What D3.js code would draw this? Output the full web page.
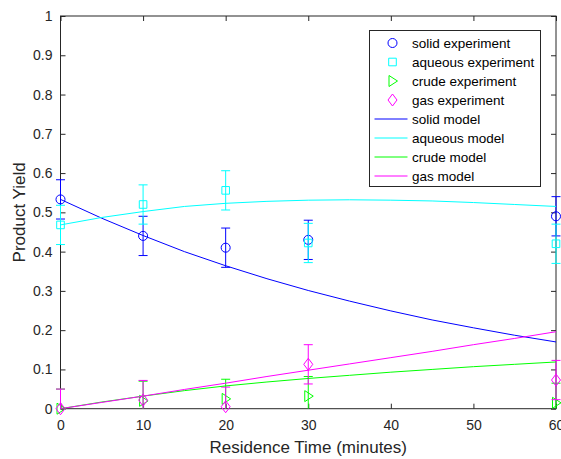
<!DOCTYPE html>
<html>
<head>
<meta charset="utf-8">
<script src="https://cdn.jsdelivr.net/npm/d3@7"></script>
<style>
  body { margin: 0; background: #fff; }
  svg { font-family: "Liberation Sans", Arial, sans-serif; }
</style>
</head>
<body>
<svg id="chart" width="561" height="459"></svg>
<script>
// experiment data
let times = [0, 10, 20, 30, 60];
let solidExp = [0.533, 0.44, 0.41, 0.43, 0.49];
let aqueousExp = [0.468, 0.52, 0.556, 0.422, 0.42];
let crudeExp = [0, 0.02, 0.025, 0.032, 0.015];
let gasExp = [0, 0.022, 0.005, 0.113, 0.073];
let errSize = 0.05;

// model curves
let modelTimes = [0, 5, 10, 15, 20, 25, 30, 35, 40, 45, 50, 55, 60];
let solidModel = [0.533, 0.485, 0.441, 0.400, 0.364, 0.331, 0.301, 0.274, 0.249, 0.226, 0.206, 0.187, 0.170];
let aqueousModel = [0.468, 0.487, 0.502, 0.515, 0.523, 0.528, 0.531, 0.532, 0.531, 0.529, 0.525, 0.520, 0.515];
let crudeModel = [0, 0.017, 0.032, 0.046, 0.058, 0.068, 0.077, 0.085, 0.093, 0.100, 0.107, 0.113, 0.119];
let gasModel = [0, 0.016, 0.032, 0.049, 0.065, 0.082, 0.098, 0.114, 0.130, 0.146, 0.163, 0.179, 0.196];

let xTicks = [0, 10, 20, 30, 40, 50, 60];
let yTicks = [0, 0.1, 0.2, 0.3, 0.4, 0.5, 0.6, 0.7, 0.8, 0.9, 1];

let series = [
    {name: "solid", color: "#0000ff", exp: solidExp, model: solidModel, marker: "circle"},
    {name: "aqueous", color: "#00ffff", exp: aqueousExp, model: aqueousModel, marker: "square"},
    {name: "crude", color: "#00ff00", exp: crudeExp, model: crudeModel, marker: "triangle"},
    {name: "gas", color: "#ff00ff", exp: gasExp, model: gasModel, marker: "diamond"}
];

let svg = d3.select("#chart");
let margin = {top: 16, right: 5, bottom: 50.3, left: 60.5};
let width = 561 - margin.left - margin.right;
let height = 459 - margin.top - margin.bottom;
let g = svg.append("g").attr("transform", "translate(" + margin.left + "," + margin.top + ")");

// clip only in y so caps at the first and last time stay whole
svg.append("defs").append("clipPath").attr("id", "plotClip")
    .append("rect").attr("x", -20).attr("width", width + 40).attr("height", height);

let x = d3.scaleLinear().domain([0, 60]).range([0, width]);
let y = d3.scaleLinear().domain([0, 1]).range([height, 0]);

let axisColor = "#262626";

function styleAxis(sel) {
    sel.select(".domain").remove();
    sel.selectAll("line").attr("stroke", axisColor);
    sel.selectAll("text").attr("fill", axisColor).attr("font-size", 14);
}

g.append("g")
    .attr("transform", "translate(0," + height + ")")
    .call(d3.axisBottom(x).tickValues(xTicks).tickSizeInner(-5).tickSizeOuter(0).tickPadding(11).tickFormat(d3.format("d")))
    .call(styleAxis);
g.append("g")
    .call(d3.axisTop(x).tickValues(xTicks).tickSizeInner(-5).tickSizeOuter(0).tickFormat(""))
    .call(styleAxis);
g.append("g")
    .call(d3.axisLeft(y).tickValues(yTicks).tickSizeInner(-5).tickSizeOuter(0).tickPadding(8).tickFormat(d => d3.format("")(+d.toFixed(1))))
    .call(styleAxis);
g.append("g")
    .attr("transform", "translate(" + width + ",0)")
    .call(d3.axisRight(y).tickValues(yTicks).tickSizeInner(-5).tickSizeOuter(0).tickFormat(""))
    .call(styleAxis);

g.append("rect")
    .attr("width", width).attr("height", height)
    .attr("fill", "none").attr("stroke", axisColor).attr("stroke-width", 1);

// marker shapes
function markerPath(type) {
    if (type === "circle") return d3.symbol(d3.symbolCircle, 64)();
    if (type === "square") return "M-3.8,-3.8H3.8V3.8H-3.8Z";
    if (type === "triangle") return "M-3.5,-5.5L5,0L-3.5,5.5Z";
    return "M0,-6L4.5,0L0,6L-4.5,0Z";
}

let line = d3.line().x(d => x(d[0])).y(d => y(d[1]));

series.forEach(s => {
    let pts = times.map((t, i) => ({t: t, v: s.exp[i]}));
    let eg = g.append("g");
    let bars = eg.append("g").attr("clip-path", "url(#plotClip)");
    bars.selectAll(".bar").data(pts).enter().append("line")
        .attr("x1", d => x(d.t)).attr("x2", d => x(d.t))
        .attr("y1", d => y(d.v - errSize)).attr("y2", d => y(d.v + errSize))
        .attr("stroke", s.color).attr("stroke-width", 1);
    [-errSize, errSize].forEach(e => {
        bars.selectAll(".cap").data(pts).enter().append("line")
            .attr("x1", d => x(d.t) - 4.5).attr("x2", d => x(d.t) + 4.5)
            .attr("y1", d => y(d.v + e)).attr("y2", d => y(d.v + e))
            .attr("stroke", s.color).attr("stroke-width", 1);
    });
    eg.selectAll(".mk").data(pts).enter().append("path")
        .attr("d", markerPath(s.marker))
        .attr("transform", d => "translate(" + x(d.t) + "," + y(d.v) + ")")
        .attr("fill", "none").attr("stroke", s.color).attr("stroke-width", 1);
});

series.forEach(s => {
    g.append("path")
        .datum(modelTimes.map((t, i) => [t, s.model[i]]))
        .attr("d", line)
        .attr("clip-path", "url(#plotClip)")
        .attr("fill", "none").attr("stroke", s.color).attr("stroke-width", 1);
});

// axis labels
svg.append("text")
    .attr("x", margin.left + width / 2).attr("y", 453)
    .attr("text-anchor", "middle").attr("font-size", 17).attr("fill", axisColor)
    .text("Residence Time (minutes)");
svg.append("text")
    .attr("transform", "translate(25," + (margin.top + height / 2) + ") rotate(-90)")
    .attr("text-anchor", "middle").attr("font-size", 17).attr("fill", axisColor)
    .text("Product Yield");

// legend
let legendItems = [];
series.forEach(s => legendItems.push({label: s.name + " experiment", color: s.color, marker: s.marker}));
series.forEach(s => legendItems.push({label: s.name + " model", color: s.color, marker: null}));

let legend = svg.append("g").attr("transform", "translate(369.5,30.5)");
legend.append("rect")
    .attr("width", 171).attr("height", 156)
    .attr("fill", "#fff").attr("stroke", axisColor).attr("stroke-width", 1);

let items = legend.selectAll(".item").data(legendItems).enter().append("g")
    .attr("transform", (d, i) => "translate(0," + (12.5 + i * 19) + ")");
items.filter(d => d.marker).append("path")
    .attr("d", d => markerPath(d.marker))
    .attr("transform", "translate(23,0)")
    .attr("fill", "none").attr("stroke", d => d.color).attr("stroke-width", 1);
items.filter(d => !d.marker).append("line")
    .attr("x1", 5).attr("x2", 38)
    .attr("stroke", d => d.color).attr("stroke-width", 1);
items.append("text")
    .attr("x", 42.5).attr("dy", "0.35em")
    .attr("font-size", 13.5).attr("fill", "#000")
    .text(d => d.label);
</script>
</body>
</html>
